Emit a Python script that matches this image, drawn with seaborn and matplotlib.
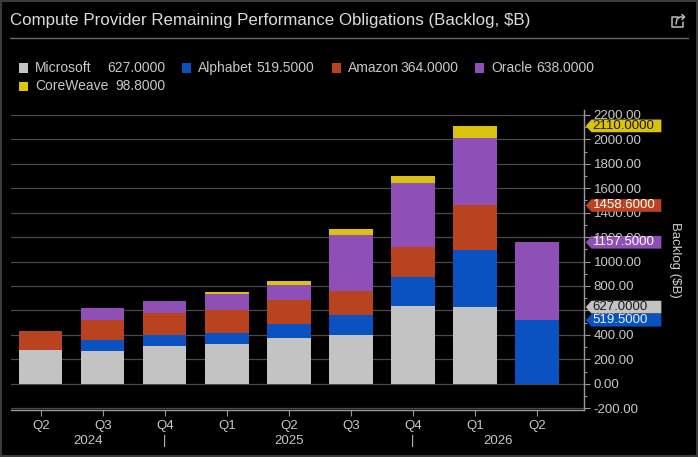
import numpy as np
import pandas as pd
import matplotlib
matplotlib.use("Agg")
import matplotlib.pyplot as plt
import seaborn as sns
from matplotlib.patches import Polygon, Rectangle
from matplotlib.lines import Line2D
from matplotlib.ticker import MultipleLocator, FormatStrFormatter

# --- data ($B) ---
quarters = ["Q2", "Q3", "Q4", "Q1", "Q2", "Q3", "Q4", "Q1", "Q2"]
periods = ["Q2 2024", "Q3 2024", "Q4 2024", "Q1 2025", "Q2 2025",
           "Q3 2025", "Q4 2025", "Q1 2026", "Q2 2026"]
microsoft = [277, 268, 310, 323, 378, 395, 636, 627.0, np.nan]
alphabet = [np.nan, 88, 90, 93, 107, 167, 238, 467.6, 519.5]
amazon = [153, 167, 181, 190, 197, 194, 247, 364.0, np.nan]
oracle = [np.nan, 96, 99, 128, 129, 461, 523, 552.6, 638.0]
coreweave = [np.nan, np.nan, np.nan, 17, 33, 49, 58, 98.8, np.nan]

year_labels = ["2024", "2025", "2026"]
year_pos = [0.76, 4.0, 7.38]
year_breaks = [2, 6]

companies = ["Microsoft", "Alphabet", "Amazon", "Oracle", "CoreWeave"]
colors = {
    "Microsoft": "#c3c3c3",
    "Alphabet": "#0a52c2",
    "Amazon": "#b8431e",
    "Oracle": "#8e50b6",
    "CoreWeave": "#dbc20c",
}
tag_text = {
    "Microsoft": "#1a1a1a",
    "Alphabet": "#e8f4ff",
    "Amazon": "#ffffff",
    "Oracle": "#ffffff",
    "CoreWeave": "#1a1a1a",
}

df = pd.DataFrame({"period": periods, "Microsoft": microsoft, "Alphabet": alphabet,
                   "Amazon": amazon, "Oracle": oracle, "CoreWeave": coreweave})
cum = df[companies].fillna(0).cumsum(axis=1)

sns.set_theme(style="dark")
plt.rcParams["font.family"] = ["Liberation Sans", "DejaVu Sans"]
txt = "#c8c8c8"

fig = plt.figure(figsize=(6.98, 4.57), dpi=100, facecolor="black")
ax = fig.add_axes([11 / 698, 47 / 457, 573 / 698, 300 / 457])
ax.set_facecolor("black")

# stacked bars: draw cumulative tops from the top layer down
for name in reversed(companies):
    sns.barplot(x=df["period"], y=cum[name], color=colors[name], saturation=1,
                width=0.7, errorbar=None, linewidth=0, ax=ax)

ax.set_xlim(-0.48, 8.76)
ax.set_ylim(-215, 2240)
ax.set_xlabel("")
ax.set_ylabel("")

ax.yaxis.tick_right()
ax.yaxis.set_major_locator(MultipleLocator(200))
ax.yaxis.set_minor_locator(MultipleLocator(100))
ax.yaxis.set_major_formatter(FormatStrFormatter("%.2f"))
ax.yaxis.grid(True, which="major", color="#4a4a4a", lw=0.9)
ax.set_axisbelow(True)
ax.tick_params(axis="y", which="major", direction="out", length=4, width=0.8,
               color="#9a9a9a", labelcolor=txt, labelsize=9.5, pad=3, right=True, left=False)
ax.tick_params(axis="y", which="minor", direction="out", length=2.5, width=0.8,
               color="#9a9a9a", right=True, left=False)
ax.set_xticks(range(len(quarters)))
ax.set_xticklabels(quarters)
ax.tick_params(axis="x", direction="out", length=4, width=0.8, color="#9a9a9a",
               labelcolor=txt, labelsize=9.5, pad=3, bottom=True)

for s in ["left", "top"]:
    ax.spines[s].set_visible(False)
for s in ["right", "bottom"]:
    ax.spines[s].set_color("#9a9a9a")
    ax.spines[s].set_linewidth(1)

# year row
xt = ax.get_xaxis_transform()
for lab, p in zip(year_labels, year_pos):
    ax.text(p, -0.103, lab, transform=xt, ha="center", va="center",
            color=txt, fontsize=9.5, clip_on=False)
for b in year_breaks:
    ax.text(b, -0.103, "|", transform=xt, ha="center", va="center",
            color=txt, fontsize=9, clip_on=False)

# last-value tags on the right axis
yt = ax.get_yaxis_transform()
h = 52
for name in ["CoreWeave", "Amazon", "Oracle", "Microsoft", "Alphabet"]:
    idx = df[name].last_valid_index()
    v = cum.loc[idx, name]
    poly = Polygon([(1.003, v), (1.013, v + h), (1.135, v + h), (1.135, v - h), (1.013, v - h)],
                   closed=True, transform=yt, clip_on=False, fc=colors[name], ec="none", zorder=5)
    ax.add_patch(poly)
    ax.text(1.015, v, f"{v:.4f}", transform=yt, ha="left", va="center",
            color=tag_text[name], fontsize=9.5, clip_on=False, zorder=6)

fig.text(0.967, (47 + 150) / 457, "Backlog ($B)", rotation=270, ha="center", va="center",
         color="#d0d0d0", fontsize=9.5)

# title, rule, legend
fig.text(10 / 698, 1 - 20 / 457, "Compute Provider Remaining Performance Obligations (Backlog, $B)",
         ha="left", va="center", color="#dcdcdc", fontsize=12.2)
fig.add_artist(Line2D([10 / 698, 688 / 698], [1 - 38 / 457] * 2, transform=fig.transFigure,
                      color="#6a6a6a", lw=1))

# share icon
def px(x, y):
    return x / 698, 1 - y / 457

icon = [(678, 17), (672, 17), (672, 27), (683, 27), (683, 22)]
fig.add_artist(Line2D([px(*p)[0] for p in icon], [px(*p)[1] for p in icon],
                      transform=fig.transFigure, color="#bdbdbd", lw=1.1))
arc = [(676, 24), (677, 19), (680, 17), (684, 17)]
fig.add_artist(Line2D([px(*p)[0] for p in arc], [px(*p)[1] for p in arc],
                      transform=fig.transFigure, color="#bdbdbd", lw=1.1))
head = [(682, 14.5), (684.5, 17), (682, 19.5)]
fig.add_artist(Line2D([px(*p)[0] for p in head], [px(*p)[1] for p in head],
                      transform=fig.transFigure, color="#bdbdbd", lw=1.1))

legend_layout = [
    ("Microsoft", 19, 165, 68),
    ("Alphabet", 182, 314, 68),
    ("Amazon", 332, 458.6, 68),
    ("Oracle", 475, 594, 68),
    ("CoreWeave", 19, 165, 86.5),
]
for name, x0, xend, y in legend_layout:
    last = df[name].dropna().iloc[-1]
    fig.add_artist(Rectangle((x0 / 698, 1 - (y + 4.5) / 457), 9 / 698, 9 / 457,
                             transform=fig.transFigure, fc=colors[name], ec="none"))
    fig.text((x0 + 16) / 698, 1 - y / 457, name, ha="left", va="center", color=txt, fontsize=10)
    fig.text(xend / 698, 1 - y / 457, f"{last:.4f}", ha="right", va="center", color=txt, fontsize=10)

fig.add_artist(Rectangle((0.002, 0.002), 0.996, 0.996, transform=fig.transFigure,
                         fill=False, ec="#3a3a3a", lw=1.5))

fig.savefig("out.png", dpi=100, facecolor="black")
